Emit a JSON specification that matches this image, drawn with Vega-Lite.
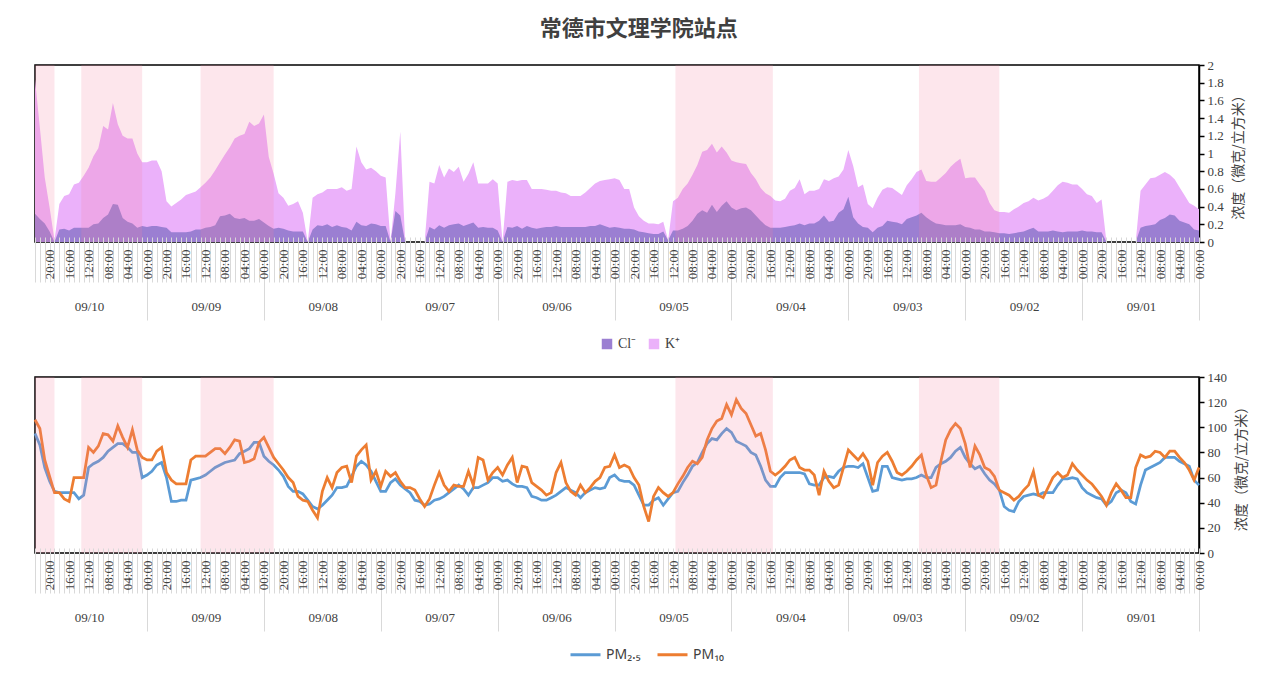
{
"$schema":"https://vega.github.io/schema/vega-lite/v6.json",
"padding":{"left":28,"top":18,"right":10,"bottom":10},
"title":{"text":"常德市文理学院站点","fontSize":22,"fontWeight":"bold","font":"Noto Sans CJK SC","color":"#404040","anchor":"middle","offset":17},
"datasets":{
"hourly":[
{"t":"2023-09-01T00:00:00Z","K":0.37,"Cl":0.13,"PM25":54,"PM10":68},
{"t":"2023-09-01T01:00:00Z","K":0.41,"Cl":0.14,"PM25":58,"PM10":58},
{"t":"2023-09-01T02:00:00Z","K":0.44,"Cl":0.2,"PM25":69,"PM10":66},
{"t":"2023-09-01T03:00:00Z","K":0.53,"Cl":0.22,"PM25":71,"PM10":72},
{"t":"2023-09-01T04:00:00Z","K":0.62,"Cl":0.24,"PM25":73,"PM10":76},
{"t":"2023-09-01T05:00:00Z","K":0.71,"Cl":0.3,"PM25":76,"PM10":81},
{"t":"2023-09-01T06:00:00Z","K":0.76,"Cl":0.31,"PM25":76,"PM10":81},
{"t":"2023-09-01T07:00:00Z","K":0.79,"Cl":0.27,"PM25":76,"PM10":76},
{"t":"2023-09-01T08:00:00Z","K":0.76,"Cl":0.25,"PM25":72,"PM10":80},
{"t":"2023-09-01T09:00:00Z","K":0.73,"Cl":0.2,"PM25":70,"PM10":81},
{"t":"2023-09-01T10:00:00Z","K":0.72,"Cl":0.19,"PM25":68,"PM10":77},
{"t":"2023-09-01T11:00:00Z","K":0.65,"Cl":0.18,"PM25":66,"PM10":76},
{"t":"2023-09-01T12:00:00Z","K":0.58,"Cl":0.16,"PM25":54,"PM10":78},
{"t":"2023-09-01T13:00:00Z","K":0,"Cl":0,"PM25":39,"PM10":68},
{"t":"2023-09-01T14:00:00Z","K":0,"Cl":0,"PM25":41,"PM10":44},
{"t":"2023-09-01T15:00:00Z","K":0,"Cl":0,"PM25":48,"PM10":44},
{"t":"2023-09-01T16:00:00Z","K":0,"Cl":0,"PM25":50,"PM10":50},
{"t":"2023-09-01T17:00:00Z","K":0,"Cl":0,"PM25":48,"PM10":55},
{"t":"2023-09-01T18:00:00Z","K":0,"Cl":0,"PM25":41,"PM10":48},
{"t":"2023-09-01T19:00:00Z","K":0,"Cl":0,"PM25":38,"PM10":38},
{"t":"2023-09-01T20:00:00Z","K":0.48,"Cl":0.11,"PM25":43,"PM10":45},
{"t":"2023-09-01T21:00:00Z","K":0.44,"Cl":0.11,"PM25":44,"PM10":50},
{"t":"2023-09-01T22:00:00Z","K":0.52,"Cl":0.12,"PM25":46,"PM10":55},
{"t":"2023-09-01T23:00:00Z","K":0.54,"Cl":0.12,"PM25":48,"PM10":58},
{"t":"2023-09-02T00:00:00Z","K":0.6,"Cl":0.13,"PM25":52,"PM10":62},
{"t":"2023-09-02T01:00:00Z","K":0.65,"Cl":0.12,"PM25":59,"PM10":66},
{"t":"2023-09-02T02:00:00Z","K":0.65,"Cl":0.12,"PM25":60,"PM10":71},
{"t":"2023-09-02T03:00:00Z","K":0.67,"Cl":0.12,"PM25":59,"PM10":62},
{"t":"2023-09-02T04:00:00Z","K":0.68,"Cl":0.11,"PM25":59,"PM10":60},
{"t":"2023-09-02T05:00:00Z","K":0.64,"Cl":0.12,"PM25":54,"PM10":64},
{"t":"2023-09-02T06:00:00Z","K":0.58,"Cl":0.13,"PM25":48,"PM10":60},
{"t":"2023-09-02T07:00:00Z","K":0.52,"Cl":0.12,"PM25":48,"PM10":52},
{"t":"2023-09-02T08:00:00Z","K":0.49,"Cl":0.12,"PM25":48,"PM10":44},
{"t":"2023-09-02T09:00:00Z","K":0.47,"Cl":0.12,"PM25":46,"PM10":46},
{"t":"2023-09-02T10:00:00Z","K":0.5,"Cl":0.16,"PM25":47,"PM10":65},
{"t":"2023-09-02T11:00:00Z","K":0.46,"Cl":0.14,"PM25":46,"PM10":54},
{"t":"2023-09-02T12:00:00Z","K":0.44,"Cl":0.12,"PM25":45,"PM10":50},
{"t":"2023-09-02T13:00:00Z","K":0.4,"Cl":0.11,"PM25":41,"PM10":45},
{"t":"2023-09-02T14:00:00Z","K":0.37,"Cl":0.1,"PM25":33,"PM10":42},
{"t":"2023-09-02T15:00:00Z","K":0.33,"Cl":0.09,"PM25":34,"PM10":46},
{"t":"2023-09-02T16:00:00Z","K":0.34,"Cl":0.1,"PM25":37,"PM10":48},
{"t":"2023-09-02T17:00:00Z","K":0.34,"Cl":0.1,"PM25":50,"PM10":50},
{"t":"2023-09-02T18:00:00Z","K":0.36,"Cl":0.11,"PM25":55,"PM10":61},
{"t":"2023-09-02T19:00:00Z","K":0.44,"Cl":0.12,"PM25":58,"PM10":66},
{"t":"2023-09-02T20:00:00Z","K":0.58,"Cl":0.12,"PM25":63,"PM10":68},
{"t":"2023-09-02T21:00:00Z","K":0.65,"Cl":0.14,"PM25":69,"PM10":78},
{"t":"2023-09-02T22:00:00Z","K":0.73,"Cl":0.14,"PM25":67,"PM10":85},
{"t":"2023-09-02T23:00:00Z","K":0.73,"Cl":0.16,"PM25":71,"PM10":68},
{"t":"2023-09-03T00:00:00Z","K":0.72,"Cl":0.17,"PM25":76,"PM10":87},
{"t":"2023-09-03T01:00:00Z","K":0.94,"Cl":0.2,"PM25":84,"PM10":99},
{"t":"2023-09-03T02:00:00Z","K":0.9,"Cl":0.19,"PM25":81,"PM10":103},
{"t":"2023-09-03T03:00:00Z","K":0.85,"Cl":0.19,"PM25":76,"PM10":98},
{"t":"2023-09-03T04:00:00Z","K":0.78,"Cl":0.19,"PM25":73,"PM10":90},
{"t":"2023-09-03T05:00:00Z","K":0.73,"Cl":0.2,"PM25":71,"PM10":73},
{"t":"2023-09-03T06:00:00Z","K":0.68,"Cl":0.21,"PM25":68,"PM10":54},
{"t":"2023-09-03T07:00:00Z","K":0.68,"Cl":0.24,"PM25":60,"PM10":52},
{"t":"2023-09-03T08:00:00Z","K":0.69,"Cl":0.28,"PM25":60,"PM10":62},
{"t":"2023-09-03T09:00:00Z","K":0.82,"Cl":0.33,"PM25":62,"PM10":78},
{"t":"2023-09-03T10:00:00Z","K":0.79,"Cl":0.3,"PM25":60,"PM10":74},
{"t":"2023-09-03T11:00:00Z","K":0.71,"Cl":0.28,"PM25":59,"PM10":69},
{"t":"2023-09-03T12:00:00Z","K":0.64,"Cl":0.26,"PM25":59,"PM10":65},
{"t":"2023-09-03T13:00:00Z","K":0.53,"Cl":0.2,"PM25":58,"PM10":62},
{"t":"2023-09-03T14:00:00Z","K":0.57,"Cl":0.22,"PM25":59,"PM10":64},
{"t":"2023-09-03T15:00:00Z","K":0.61,"Cl":0.23,"PM25":60,"PM10":73},
{"t":"2023-09-03T16:00:00Z","K":0.62,"Cl":0.24,"PM25":69,"PM10":80},
{"t":"2023-09-03T17:00:00Z","K":0.59,"Cl":0.18,"PM25":69,"PM10":77},
{"t":"2023-09-03T18:00:00Z","K":0.5,"Cl":0.16,"PM25":50,"PM10":72},
{"t":"2023-09-03T19:00:00Z","K":0.38,"Cl":0.11,"PM25":49,"PM10":54},
{"t":"2023-09-03T20:00:00Z","K":0.43,"Cl":0.16,"PM25":60,"PM10":73},
{"t":"2023-09-03T21:00:00Z","K":0.65,"Cl":0.17,"PM25":71,"PM10":79},
{"t":"2023-09-03T22:00:00Z","K":0.62,"Cl":0.21,"PM25":68,"PM10":74},
{"t":"2023-09-03T23:00:00Z","K":0.86,"Cl":0.28,"PM25":69,"PM10":78},
{"t":"2023-09-04T00:00:00Z","K":1.04,"Cl":0.51,"PM25":69,"PM10":82},
{"t":"2023-09-04T01:00:00Z","K":0.82,"Cl":0.37,"PM25":68,"PM10":68},
{"t":"2023-09-04T02:00:00Z","K":0.74,"Cl":0.33,"PM25":65,"PM10":54},
{"t":"2023-09-04T03:00:00Z","K":0.72,"Cl":0.24,"PM25":60,"PM10":52},
{"t":"2023-09-04T04:00:00Z","K":0.69,"Cl":0.23,"PM25":61,"PM10":57},
{"t":"2023-09-04T05:00:00Z","K":0.71,"Cl":0.3,"PM25":60,"PM10":65},
{"t":"2023-09-04T06:00:00Z","K":0.6,"Cl":0.24,"PM25":54,"PM10":46},
{"t":"2023-09-04T07:00:00Z","K":0.58,"Cl":0.21,"PM25":54,"PM10":62},
{"t":"2023-09-04T08:00:00Z","K":0.58,"Cl":0.21,"PM25":55,"PM10":66},
{"t":"2023-09-04T09:00:00Z","K":0.54,"Cl":0.19,"PM25":63,"PM10":66},
{"t":"2023-09-04T10:00:00Z","K":0.71,"Cl":0.21,"PM25":64,"PM10":68},
{"t":"2023-09-04T11:00:00Z","K":0.61,"Cl":0.19,"PM25":64,"PM10":76},
{"t":"2023-09-04T12:00:00Z","K":0.58,"Cl":0.18,"PM25":64,"PM10":74},
{"t":"2023-09-04T13:00:00Z","K":0.49,"Cl":0.17,"PM25":64,"PM10":69},
{"t":"2023-09-04T14:00:00Z","K":0.46,"Cl":0.16,"PM25":60,"PM10":65},
{"t":"2023-09-04T15:00:00Z","K":0.47,"Cl":0.16,"PM25":53,"PM10":62},
{"t":"2023-09-04T16:00:00Z","K":0.52,"Cl":0.16,"PM25":53,"PM10":65},
{"t":"2023-09-04T17:00:00Z","K":0.55,"Cl":0.19,"PM25":58,"PM10":82},
{"t":"2023-09-04T18:00:00Z","K":0.61,"Cl":0.24,"PM25":69,"PM10":95},
{"t":"2023-09-04T19:00:00Z","K":0.71,"Cl":0.3,"PM25":78,"PM10":93},
{"t":"2023-09-04T20:00:00Z","K":0.78,"Cl":0.36,"PM25":80,"PM10":102},
{"t":"2023-09-04T21:00:00Z","K":0.88,"Cl":0.39,"PM25":85,"PM10":111},
{"t":"2023-09-04T22:00:00Z","K":0.89,"Cl":0.38,"PM25":87,"PM10":115},
{"t":"2023-09-04T23:00:00Z","K":0.9,"Cl":0.36,"PM25":89,"PM10":122},
{"t":"2023-09-05T00:00:00Z","K":0.92,"Cl":0.39,"PM25":96,"PM10":110},
{"t":"2023-09-05T01:00:00Z","K":1.01,"Cl":0.46,"PM25":99,"PM10":118},
{"t":"2023-09-05T02:00:00Z","K":1.08,"Cl":0.41,"PM25":95,"PM10":107},
{"t":"2023-09-05T03:00:00Z","K":1.01,"Cl":0.34,"PM25":90,"PM10":105},
{"t":"2023-09-05T04:00:00Z","K":1.11,"Cl":0.42,"PM25":91,"PM10":99},
{"t":"2023-09-05T05:00:00Z","K":1.04,"Cl":0.33,"PM25":87,"PM10":90},
{"t":"2023-09-05T06:00:00Z","K":1.02,"Cl":0.36,"PM25":80,"PM10":76},
{"t":"2023-09-05T07:00:00Z","K":0.87,"Cl":0.32,"PM25":72,"PM10":71},
{"t":"2023-09-05T08:00:00Z","K":0.76,"Cl":0.24,"PM25":69,"PM10":73},
{"t":"2023-09-05T09:00:00Z","K":0.66,"Cl":0.18,"PM25":62,"PM10":68},
{"t":"2023-09-05T10:00:00Z","K":0.6,"Cl":0.15,"PM25":56,"PM10":61},
{"t":"2023-09-05T11:00:00Z","K":0.5,"Cl":0.13,"PM25":49,"PM10":55},
{"t":"2023-09-05T12:00:00Z","K":0.46,"Cl":0.13,"PM25":48,"PM10":48},
{"t":"2023-09-05T13:00:00Z","K":0.02,"Cl":0.02,"PM25":43,"PM10":45},
{"t":"2023-09-05T14:00:00Z","K":0.23,"Cl":0.12,"PM25":38,"PM10":48},
{"t":"2023-09-05T15:00:00Z","K":0.2,"Cl":0.09,"PM25":44,"PM10":52},
{"t":"2023-09-05T16:00:00Z","K":0.21,"Cl":0.09,"PM25":42,"PM10":45},
{"t":"2023-09-05T17:00:00Z","K":0.21,"Cl":0.1,"PM25":38,"PM10":25},
{"t":"2023-09-05T18:00:00Z","K":0.24,"Cl":0.11,"PM25":38,"PM10":37},
{"t":"2023-09-05T19:00:00Z","K":0.29,"Cl":0.12,"PM25":46,"PM10":54},
{"t":"2023-09-05T20:00:00Z","K":0.39,"Cl":0.14,"PM25":54,"PM10":60},
{"t":"2023-09-05T21:00:00Z","K":0.6,"Cl":0.15,"PM25":57,"PM10":68},
{"t":"2023-09-05T22:00:00Z","K":0.6,"Cl":0.15,"PM25":57,"PM10":70},
{"t":"2023-09-05T23:00:00Z","K":0.7,"Cl":0.16,"PM25":58,"PM10":68},
{"t":"2023-09-06T00:00:00Z","K":0.72,"Cl":0.17,"PM25":62,"PM10":78},
{"t":"2023-09-06T01:00:00Z","K":0.71,"Cl":0.16,"PM25":60,"PM10":69},
{"t":"2023-09-06T02:00:00Z","K":0.7,"Cl":0.18,"PM25":52,"PM10":68},
{"t":"2023-09-06T03:00:00Z","K":0.69,"Cl":0.2,"PM25":51,"PM10":60},
{"t":"2023-09-06T04:00:00Z","K":0.66,"Cl":0.18,"PM25":52,"PM10":57},
{"t":"2023-09-06T05:00:00Z","K":0.61,"Cl":0.18,"PM25":50,"PM10":52},
{"t":"2023-09-06T06:00:00Z","K":0.56,"Cl":0.17,"PM25":48,"PM10":48},
{"t":"2023-09-06T07:00:00Z","K":0.52,"Cl":0.17,"PM25":44,"PM10":54},
{"t":"2023-09-06T08:00:00Z","K":0.52,"Cl":0.17,"PM25":48,"PM10":46},
{"t":"2023-09-06T09:00:00Z","K":0.52,"Cl":0.17,"PM25":50,"PM10":49},
{"t":"2023-09-06T10:00:00Z","K":0.55,"Cl":0.17,"PM25":52,"PM10":56},
{"t":"2023-09-06T11:00:00Z","K":0.56,"Cl":0.17,"PM25":49,"PM10":72},
{"t":"2023-09-06T12:00:00Z","K":0.58,"Cl":0.18,"PM25":46,"PM10":64},
{"t":"2023-09-06T13:00:00Z","K":0.58,"Cl":0.17,"PM25":44,"PM10":48},
{"t":"2023-09-06T14:00:00Z","K":0.59,"Cl":0.17,"PM25":42,"PM10":46},
{"t":"2023-09-06T15:00:00Z","K":0.6,"Cl":0.16,"PM25":42,"PM10":50},
{"t":"2023-09-06T16:00:00Z","K":0.6,"Cl":0.15,"PM25":44,"PM10":53},
{"t":"2023-09-06T17:00:00Z","K":0.6,"Cl":0.16,"PM25":45,"PM10":56},
{"t":"2023-09-06T18:00:00Z","K":0.7,"Cl":0.18,"PM25":52,"PM10":68},
{"t":"2023-09-06T19:00:00Z","K":0.7,"Cl":0.15,"PM25":53,"PM10":69},
{"t":"2023-09-06T20:00:00Z","K":0.69,"Cl":0.18,"PM25":53,"PM10":56},
{"t":"2023-09-06T21:00:00Z","K":0.7,"Cl":0.16,"PM25":55,"PM10":76},
{"t":"2023-09-06T22:00:00Z","K":0.68,"Cl":0.17,"PM25":58,"PM10":70},
{"t":"2023-09-06T23:00:00Z","K":0,"Cl":0,"PM25":57,"PM10":62},
{"t":"2023-09-07T00:00:00Z","K":0.66,"Cl":0.13,"PM25":60,"PM10":68},
{"t":"2023-09-07T01:00:00Z","K":0.71,"Cl":0.16,"PM25":60,"PM10":64},
{"t":"2023-09-07T02:00:00Z","K":0.66,"Cl":0.16,"PM25":56,"PM10":58},
{"t":"2023-09-07T03:00:00Z","K":0.66,"Cl":0.17,"PM25":54,"PM10":74},
{"t":"2023-09-07T04:00:00Z","K":0.66,"Cl":0.16,"PM25":52,"PM10":76},
{"t":"2023-09-07T05:00:00Z","K":0.9,"Cl":0.22,"PM25":52,"PM10":54},
{"t":"2023-09-07T06:00:00Z","K":0.77,"Cl":0.2,"PM25":46,"PM10":65},
{"t":"2023-09-07T07:00:00Z","K":0.68,"Cl":0.18,"PM25":51,"PM10":53},
{"t":"2023-09-07T08:00:00Z","K":0.85,"Cl":0.21,"PM25":54,"PM10":53},
{"t":"2023-09-07T09:00:00Z","K":0.79,"Cl":0.2,"PM25":51,"PM10":54},
{"t":"2023-09-07T10:00:00Z","K":0.83,"Cl":0.19,"PM25":48,"PM10":49},
{"t":"2023-09-07T11:00:00Z","K":0.73,"Cl":0.16,"PM25":45,"PM10":54},
{"t":"2023-09-07T12:00:00Z","K":0.87,"Cl":0.19,"PM25":43,"PM10":64},
{"t":"2023-09-07T13:00:00Z","K":0.66,"Cl":0.14,"PM25":42,"PM10":54},
{"t":"2023-09-07T14:00:00Z","K":0.68,"Cl":0.17,"PM25":39,"PM10":43},
{"t":"2023-09-07T15:00:00Z","K":0,"Cl":0,"PM25":38,"PM10":37},
{"t":"2023-09-07T16:00:00Z","K":0,"Cl":0,"PM25":41,"PM10":43},
{"t":"2023-09-07T17:00:00Z","K":0,"Cl":0,"PM25":42,"PM10":50},
{"t":"2023-09-07T18:00:00Z","K":0,"Cl":0,"PM25":48,"PM10":52},
{"t":"2023-09-07T19:00:00Z","K":0,"Cl":0,"PM25":51,"PM10":52},
{"t":"2023-09-07T20:00:00Z","K":1.25,"Cl":0.3,"PM25":54,"PM10":57},
{"t":"2023-09-07T21:00:00Z","K":0.55,"Cl":0.35,"PM25":59,"PM10":64},
{"t":"2023-09-07T22:00:00Z","K":0,"Cl":0,"PM25":56,"PM10":61},
{"t":"2023-09-07T23:00:00Z","K":0.73,"Cl":0.18,"PM25":49,"PM10":65},
{"t":"2023-09-08T00:00:00Z","K":0.75,"Cl":0.18,"PM25":49,"PM10":53},
{"t":"2023-09-08T01:00:00Z","K":0.8,"Cl":0.2,"PM25":57,"PM10":65},
{"t":"2023-09-08T02:00:00Z","K":0.84,"Cl":0.21,"PM25":65,"PM10":58},
{"t":"2023-09-08T03:00:00Z","K":0.82,"Cl":0.18,"PM25":70,"PM10":86},
{"t":"2023-09-08T04:00:00Z","K":0.9,"Cl":0.19,"PM25":73,"PM10":82},
{"t":"2023-09-08T05:00:00Z","K":1.08,"Cl":0.23,"PM25":69,"PM10":77},
{"t":"2023-09-08T06:00:00Z","K":0.6,"Cl":0.13,"PM25":61,"PM10":56},
{"t":"2023-09-08T07:00:00Z","K":0.58,"Cl":0.16,"PM25":53,"PM10":69},
{"t":"2023-09-08T08:00:00Z","K":0.62,"Cl":0.17,"PM25":52,"PM10":68},
{"t":"2023-09-08T09:00:00Z","K":0.6,"Cl":0.19,"PM25":52,"PM10":64},
{"t":"2023-09-08T10:00:00Z","K":0.6,"Cl":0.17,"PM25":46,"PM10":52},
{"t":"2023-09-08T11:00:00Z","K":0.6,"Cl":0.2,"PM25":42,"PM10":60},
{"t":"2023-09-08T12:00:00Z","K":0.56,"Cl":0.18,"PM25":38,"PM10":49},
{"t":"2023-09-08T13:00:00Z","K":0.54,"Cl":0.19,"PM25":35,"PM10":28},
{"t":"2023-09-08T14:00:00Z","K":0.5,"Cl":0.14,"PM25":37,"PM10":34},
{"t":"2023-09-08T15:00:00Z","K":0,"Cl":0,"PM25":42,"PM10":41},
{"t":"2023-09-08T16:00:00Z","K":0.33,"Cl":0.12,"PM25":47,"PM10":42},
{"t":"2023-09-08T17:00:00Z","K":0.46,"Cl":0.12,"PM25":49,"PM10":45},
{"t":"2023-09-08T18:00:00Z","K":0.43,"Cl":0.12,"PM25":49,"PM10":56},
{"t":"2023-09-08T19:00:00Z","K":0.41,"Cl":0.13,"PM25":53,"PM10":60},
{"t":"2023-09-08T20:00:00Z","K":0.5,"Cl":0.15,"PM25":61,"PM10":66},
{"t":"2023-09-08T21:00:00Z","K":0.55,"Cl":0.16,"PM25":66,"PM10":71},
{"t":"2023-09-08T22:00:00Z","K":0.77,"Cl":0.15,"PM25":70,"PM10":76},
{"t":"2023-09-08T23:00:00Z","K":0.96,"Cl":0.18,"PM25":73,"PM10":84},
{"t":"2023-09-09T00:00:00Z","K":1.44,"Cl":0.22,"PM25":77,"PM10":92},
{"t":"2023-09-09T01:00:00Z","K":1.34,"Cl":0.26,"PM25":88,"PM10":88},
{"t":"2023-09-09T02:00:00Z","K":1.31,"Cl":0.24,"PM25":88,"PM10":75},
{"t":"2023-09-09T03:00:00Z","K":1.36,"Cl":0.24,"PM25":83,"PM10":73},
{"t":"2023-09-09T04:00:00Z","K":1.22,"Cl":0.27,"PM25":81,"PM10":72},
{"t":"2023-09-09T05:00:00Z","K":1.2,"Cl":0.26,"PM25":79,"PM10":89},
{"t":"2023-09-09T06:00:00Z","K":1.17,"Cl":0.27,"PM25":74,"PM10":90},
{"t":"2023-09-09T07:00:00Z","K":1.07,"Cl":0.32,"PM25":73,"PM10":84},
{"t":"2023-09-09T08:00:00Z","K":0.99,"Cl":0.3,"PM25":72,"PM10":79},
{"t":"2023-09-09T09:00:00Z","K":0.9,"Cl":0.29,"PM25":70,"PM10":83},
{"t":"2023-09-09T10:00:00Z","K":0.81,"Cl":0.19,"PM25":68,"PM10":83},
{"t":"2023-09-09T11:00:00Z","K":0.73,"Cl":0.17,"PM25":65,"PM10":80},
{"t":"2023-09-09T12:00:00Z","K":0.67,"Cl":0.16,"PM25":62,"PM10":77},
{"t":"2023-09-09T13:00:00Z","K":0.62,"Cl":0.14,"PM25":60,"PM10":77},
{"t":"2023-09-09T14:00:00Z","K":0.57,"Cl":0.14,"PM25":59,"PM10":77},
{"t":"2023-09-09T15:00:00Z","K":0.55,"Cl":0.12,"PM25":58,"PM10":74},
{"t":"2023-09-09T16:00:00Z","K":0.53,"Cl":0.11,"PM25":42,"PM10":55},
{"t":"2023-09-09T17:00:00Z","K":0.48,"Cl":0.11,"PM25":42,"PM10":55},
{"t":"2023-09-09T18:00:00Z","K":0.44,"Cl":0.11,"PM25":41,"PM10":55},
{"t":"2023-09-09T19:00:00Z","K":0.4,"Cl":0.11,"PM25":41,"PM10":58},
{"t":"2023-09-09T20:00:00Z","K":0.46,"Cl":0.16,"PM25":60,"PM10":64},
{"t":"2023-09-09T21:00:00Z","K":0.8,"Cl":0.17,"PM25":72,"PM10":84},
{"t":"2023-09-09T22:00:00Z","K":0.92,"Cl":0.18,"PM25":70,"PM10":81},
{"t":"2023-09-09T23:00:00Z","K":0.92,"Cl":0.18,"PM25":65,"PM10":74},
{"t":"2023-09-10T00:00:00Z","K":0.9,"Cl":0.17,"PM25":62,"PM10":74},
{"t":"2023-09-10T01:00:00Z","K":0.9,"Cl":0.18,"PM25":60,"PM10":76},
{"t":"2023-09-10T02:00:00Z","K":1.0,"Cl":0.16,"PM25":80,"PM10":82},
{"t":"2023-09-10T03:00:00Z","K":1.17,"Cl":0.21,"PM25":80,"PM10":98},
{"t":"2023-09-10T04:00:00Z","K":1.17,"Cl":0.23,"PM25":84,"PM10":84},
{"t":"2023-09-10T05:00:00Z","K":1.2,"Cl":0.27,"PM25":87,"PM10":92},
{"t":"2023-09-10T06:00:00Z","K":1.33,"Cl":0.42,"PM25":87,"PM10":101},
{"t":"2023-09-10T07:00:00Z","K":1.57,"Cl":0.43,"PM25":84,"PM10":89},
{"t":"2023-09-10T08:00:00Z","K":1.27,"Cl":0.31,"PM25":81,"PM10":94},
{"t":"2023-09-10T09:00:00Z","K":1.31,"Cl":0.27,"PM25":76,"PM10":95},
{"t":"2023-09-10T10:00:00Z","K":1.06,"Cl":0.21,"PM25":73,"PM10":85},
{"t":"2023-09-10T11:00:00Z","K":0.97,"Cl":0.2,"PM25":71,"PM10":80},
{"t":"2023-09-10T12:00:00Z","K":0.84,"Cl":0.16,"PM25":68,"PM10":84},
{"t":"2023-09-10T13:00:00Z","K":0.75,"Cl":0.16,"PM25":46,"PM10":60},
{"t":"2023-09-10T14:00:00Z","K":0.67,"Cl":0.16,"PM25":43,"PM10":60},
{"t":"2023-09-10T15:00:00Z","K":0.65,"Cl":0.16,"PM25":48,"PM10":60},
{"t":"2023-09-10T16:00:00Z","K":0.54,"Cl":0.13,"PM25":48,"PM10":41},
{"t":"2023-09-10T17:00:00Z","K":0.52,"Cl":0.15,"PM25":48,"PM10":43},
{"t":"2023-09-10T18:00:00Z","K":0.43,"Cl":0.14,"PM25":48,"PM10":48},
{"t":"2023-09-10T19:00:00Z","K":0.02,"Cl":0,"PM25":49,"PM10":48},
{"t":"2023-09-10T20:00:00Z","K":0.39,"Cl":0.12,"PM25":57,"PM10":61},
{"t":"2023-09-10T21:00:00Z","K":0.73,"Cl":0.21,"PM25":68,"PM10":74},
{"t":"2023-09-10T22:00:00Z","K":1.29,"Cl":0.26,"PM25":86,"PM10":99},
{"t":"2023-09-10T23:00:00Z","K":1.84,"Cl":0.32,"PM25":95,"PM10":106}
]},
"vconcat":[
{
"width":1164,"height":177,
"layer":[
{"data":{"name":"hourly"},"mark":{"type":"area","opacity":1},
"encoding":{
"x":{"field":"t","type":"temporal","scale":{"type":"utc","reverse":true},
"axis":{"orient":"bottom","offset":-5,"values":{"expr":"sequence(1693526400000, 1694390400000, 3600000)"},"tickCount":1000,"tickSize":45,"tickColor":"#d9d9d9","tickWidth":1,"domain":false,"grid":false,"labelExpr":"utchours(datum.value) % 4 === 0 ? utcFormat(datum.value, '%H:%M') : ''","labelAngle":270,"labelPadding":-33,"labelFont":"Liberation Serif","labelFontSize":13,"labelColor":"#404040","labelOverlap":false,"labelFlush":false,"labelBound":false,"title":null,"zindex":1}},
"y":{"field":"K","type":"quantitative","scale":{"domain":[0,2],"nice":false},
"axis":{"orient":"right","values":[0,0.2,0.4,0.6,0.8,1,1.2,1.4,1.6,1.8,2],"tickCount":1000,"format":"~g","labelOverlap":false,"domainColor":"black","domainWidth":1.5,"tickColor":"black","tickSize":5,"tickWidth":1.5,"labelFont":"Liberation Serif","labelFontSize":13,"labelColor":"#404040","labelPadding":3,"grid":false,"title":"浓度（微克/立方米）","titleAngle":270,"titleFont":"Noto Sans CJK SC","titleFontSize":14,"titleFontWeight":"normal","titleColor":"#404040","titlePadding":22}},
"color":{"datum":"K⁺","type":"nominal","scale":{"domain":["Cl⁻","K⁺"],"range":["#9b7fd2","#ebb1fa"]},
"legend":{"orient":"none","legendX":565,"legendY":272,"direction":"horizontal","title":null,"symbolType":"square","symbolSize":110,"labelFont":"Liberation Serif","labelFontSize":14,"labelColor":"#404040"}}
}},
{"data":{"name":"hourly"},"mark":{"type":"area","opacity":1},
"encoding":{
"x":{"field":"t","type":"temporal","axis":null},
"y":{"field":"Cl","type":"quantitative"},
"color":{"datum":"Cl⁻","type":"nominal"}
}},
{"data":{"values":[
{"start":"2023-09-10T19:00:00Z","end":"2023-09-10T23:00:00Z"},
{"start":"2023-09-10T01:00:00Z","end":"2023-09-10T13:30:00Z"},
{"start":"2023-09-08T22:00:00Z","end":"2023-09-09T13:00:00Z"},
{"start":"2023-09-04T15:30:00Z","end":"2023-09-05T11:30:00Z"},
{"start":"2023-09-02T17:00:00Z","end":"2023-09-03T09:30:00Z"}],"format":{"parse":{"start":"date","end":"date"}}},
"mark":{"type":"rect","fill":"#f5829f","fillOpacity":0.2,"strokeWidth":0},
"encoding":{
"x":{"field":"start","type":"temporal",
"axis":{"orient":"bottom","values":[1693526400000,1693612800000,1693699200000,1693785600000,1693872000000,1693958400000,1694044800000,1694131200000,1694217600000,1694304000000],"tickCount":1000,"tickSize":78,"tickColor":"#d9d9d9","tickWidth":1,"domain":false,"grid":false,"labelExpr":"utcFormat(datum.value, '%m/%d')","labelOffset":-58,"labelPadding":-20,"labelAngle":0,"labelAlign":"center","labelBaseline":"top","labelFont":"Liberation Serif","labelFontSize":13,"labelColor":"#404040","labelOverlap":false,"labelFlush":false,"labelBound":false,"title":null}},
"x2":{"field":"end"}
}}
],
"resolve":{"axis":{"x":"independent"}}
},
{
"width":1164,"height":176,
"layer":[
{"data":{"name":"hourly"},"mark":{"type":"line","strokeWidth":2.75},
"encoding":{
"x":{"field":"t","type":"temporal","scale":{"type":"utc","reverse":true},
"axis":{"orient":"bottom","offset":-5,"values":{"expr":"sequence(1693526400000, 1694390400000, 3600000)"},"tickCount":1000,"tickSize":45,"tickColor":"#d9d9d9","tickWidth":1,"domain":false,"grid":false,"labelExpr":"utchours(datum.value) % 4 === 0 ? utcFormat(datum.value, '%H:%M') : ''","labelAngle":270,"labelPadding":-33,"labelFont":"Liberation Serif","labelFontSize":13,"labelColor":"#404040","labelOverlap":false,"labelFlush":false,"labelBound":false,"title":null,"zindex":1}},
"y":{"field":"PM25","type":"quantitative","scale":{"domain":[0,140],"nice":false},
"axis":{"orient":"right","values":[0,20,40,60,80,100,120,140],"tickCount":1000,"format":"~g","labelOverlap":false,"domainColor":"black","domainWidth":1.5,"tickColor":"black","tickSize":5,"tickWidth":1.5,"labelFont":"Liberation Serif","labelFontSize":13,"labelColor":"#404040","labelPadding":3,"grid":false,"title":"浓度（微克/立方米）","titleAngle":270,"titleFont":"Noto Sans CJK SC","titleFontSize":14,"titleFontWeight":"normal","titleColor":"#404040","titlePadding":22}},
"color":{"datum":"PM₂.₅","type":"nominal","scale":{"domain":["PM₂.₅","PM₁₀"],"range":["#5b9bd5","#ed7d31"]},
"legend":{"orient":"none","legendX":534,"legendY":261,"direction":"horizontal","title":null,"symbolType":"stroke","symbolSize":900,"symbolStrokeWidth":3,"labelFont":"Noto Sans","labelFontSize":14,"labelColor":"#404040"}}
}},
{"data":{"name":"hourly"},"mark":{"type":"line","strokeWidth":2.75},
"encoding":{
"x":{"field":"t","type":"temporal","axis":null},
"y":{"field":"PM10","type":"quantitative"},
"color":{"datum":"PM₁₀","type":"nominal"}
}},
{"data":{"values":[
{"start":"2023-09-10T19:00:00Z","end":"2023-09-10T23:00:00Z"},
{"start":"2023-09-10T01:00:00Z","end":"2023-09-10T13:30:00Z"},
{"start":"2023-09-08T22:00:00Z","end":"2023-09-09T13:00:00Z"},
{"start":"2023-09-04T15:30:00Z","end":"2023-09-05T11:30:00Z"},
{"start":"2023-09-02T17:00:00Z","end":"2023-09-03T09:30:00Z"}],"format":{"parse":{"start":"date","end":"date"}}},
"mark":{"type":"rect","fill":"#f5829f","fillOpacity":0.2,"strokeWidth":0},
"encoding":{
"x":{"field":"start","type":"temporal",
"axis":{"orient":"bottom","values":[1693526400000,1693612800000,1693699200000,1693785600000,1693872000000,1693958400000,1694044800000,1694131200000,1694217600000,1694304000000],"tickCount":1000,"tickSize":78,"tickColor":"#d9d9d9","tickWidth":1,"domain":false,"grid":false,"labelExpr":"utcFormat(datum.value, '%m/%d')","labelOffset":-58,"labelPadding":-20,"labelAngle":0,"labelAlign":"center","labelBaseline":"top","labelFont":"Liberation Serif","labelFontSize":13,"labelColor":"#404040","labelOverlap":false,"labelFlush":false,"labelBound":false,"title":null}},
"x2":{"field":"end"}
}}
],
"resolve":{"axis":{"x":"independent"}}
}
],
"spacing":18,
"resolve":{"scale":{"color":"independent"}},
"config":{
"font":"Noto Sans CJK SC",
"view":{"stroke":"black","strokeWidth":1.5}
}
}
